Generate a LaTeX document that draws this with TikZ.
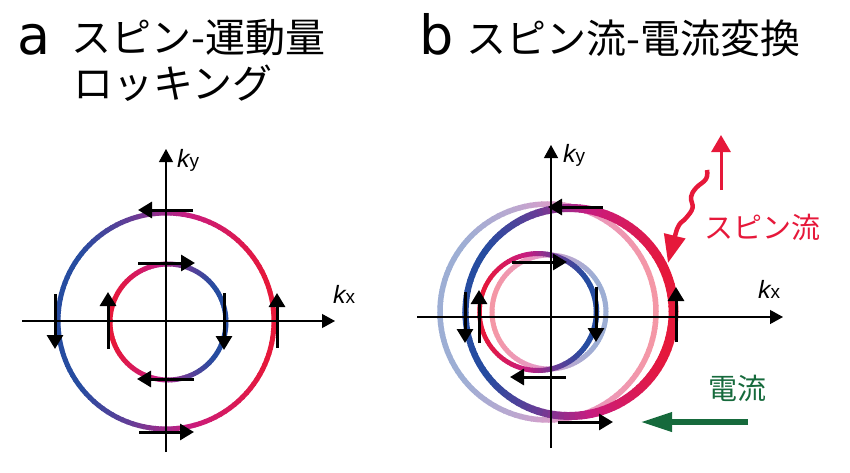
\documentclass[tikz,border=0pt]{standalone}
\usepackage{fontspec}
\newfontfamily\jpfont{Noto Sans CJK JP}
\newfontfamily\latfont{DejaVu Sans}
\newfontfamily\kfont{Liberation Sans}
\usetikzlibrary{arrows.meta}

\definecolor{spinred}{RGB}{230,24,58}
\definecolor{spinmag}{RGB}{200,28,128}
\definecolor{spinpur}{RGB}{105,60,150}
\definecolor{spinblu}{RGB}{38,76,160}
\definecolor{spingreen}{RGB}{22,106,60}

% ring with red->blue colouring along the circle
% #1,#2 centre, #3 radius, #4 sense (+1 red right, -1 red left), #5,#6 width, #7 strength
\newcommand{\spinring}[7]{%
  \foreach \a in {0,3,...,357}{%
    \pgfmathsetmacro\rt{(1-#4*cos(\a+1.5))/2}%
    \pgfmathsetmacro\pa{min(100,max(0,(\rt-0.03)*270))}%
    \pgfmathsetmacro\pb{min(100,max(0,(\rt-0.4)*400))}%
    \pgfmathsetmacro\pc{min(100,max(0,(\rt-0.65)*400))}%
    \pgfmathsetmacro\lw{#5+#6*cos(\a+1.5)}%
    \colorlet{c1}{spinmag!\pa!spinred}%
    \colorlet{c2}{spinpur!\pb!c1}%
    \colorlet{c3}{spinblu!\pc!c2}%
    \draw[line width=\lw pt, c3!#7!white]
      ([shift={(\a:#3)}]#1,#2) arc[start angle=\a, end angle=\a+3.6, radius=#3];
  }}

\begin{document}
\begin{tikzpicture}[x=1pt, y=1pt,
                axis/.style={line width=1.2pt, -{Triangle[width=14pt,length=13pt]}},
                spinarrow/.style={line width=3pt, -{Triangle[width=16pt,length=14pt]}},
                klabel/.style={anchor=base west, inner sep=0, font=\kfont\fontsize{25}{25}\selectfont},
                title/.style={anchor=west, inner sep=0, font=\jpfont\fontsize{40}{40}\selectfont},
                letter/.style={anchor=base west, inner sep=0, font=\latfont\fontsize{54}{54}\selectfont},
                flowlabel/.style={inner sep=0, font=\jpfont\fontsize{29}{29}\selectfont}]

  \useasboundingbox (0,0) rectangle (850,472);

  % titles
  \node[letter] (la) at (17,417) {a};
  \node[title] (ta1) at (71,434) {スピン-運動量};
  \node[title] (ta2) at (73,388.5) {ロッキング};
  \node[letter] (lb) at (419,417) {b};
  \node[title] (tb) at (466,434) {スピン流-電流変換};

  % panel a
  \begin{scope}[shift={(166,151)}]
    \spinring{0}{0}{108}{1}{5}{0}{100}
    \spinring{2}{-1}{58}{-1}{5}{0}{100}
    \coordinate (aW) at (-144,0);
    \coordinate (aE) at (169,0);
    \coordinate (aS) at (0,-131);
    \coordinate (aN) at (0,172);
    \draw[axis] (aW) -- (aE);
    \draw[axis] (aS) -- (aN);
    \node[klabel] (aky) at (11,154) {\itshape k\upshape\fontsize{19}{19}\selectfont y};
    \node[klabel] (akx) at (167,18) {\itshape k\upshape\fontsize{19}{19}\selectfont x};
    \foreach \r in {0,90,180,270}{
      \draw[spinarrow, rotate=\r] (111,-27) -- (111,28);
      \draw[spinarrow, rotate=\r] (58,28) -- (58,-29);
    }
  \end{scope}

  % panel b
  \begin{scope}[shift={(551,155)}]
    \spinring{-3}{5}{108}{1}{5.5}{0}{45}
    \spinring{-2}{5}{57}{-1}{5}{0}{45}
    \spinring{18.5}{5}{104}{1}{8}{1.8}{100}
    \spinring{-13}{5}{58.5}{-1}{5}{0.5}{100}
    \coordinate (bW) at (-134,0);
    \coordinate (bE) at (232,0);
    \coordinate (bS) at (0,-131);
    \coordinate (bN) at (0,172);
    \draw[axis] (bW) -- (bE);
    \draw[axis] (bS) -- (bN);
    \node[klabel] (bky) at (12,155) {\itshape k\upshape\fontsize{19}{19}\selectfont y};
    \node[klabel] (bkx) at (207,19) {\itshape k\upshape\fontsize{19}{19}\selectfont x};
    \draw[spinarrow] (52,110) -- (-3,110);
    \draw[spinarrow] (7,-105) -- (62,-105);
    \draw[spinarrow] (-86,25) -- (-86,-26);
    \draw[spinarrow] (125,-25) -- (125,30);
    \draw[spinarrow] (-39,55) -- (16,55);
    \draw[spinarrow] (15,-60) -- (-41,-60);
    \draw[spinarrow] (-72,-26) -- (-72,27);
    \draw[spinarrow] (45,30) -- (45,-25);
  \end{scope}

  % spin current and charge current
  \coordinate (up0) at (721,282);
  \coordinate (up1) at (721,337);
  \draw[spinred, line width=3pt, -{Triangle[width=19pt,length=17pt]}] (up0) -- (up1);
  \coordinate (wv0) at (707,302);
  \coordinate (wv1) at (668,209);
  \draw[spinred, line width=4.5pt, -{Triangle[width=21pt,length=28pt]}]
    plot[smooth, tension=0.7] coordinates {(wv0) (706,293) (696,284) (691,275) (692.5,264) (686,254) (679,247) (675,236) (wv1)};
  \node[flowlabel, text=spinred] (spinflow) at (762,245) {スピン流};

  \coordinate (cur0) at (748,50);
  \coordinate (cur1) at (640,50);
  \draw[spingreen, line width=6.5pt, -{Triangle[width=18pt,length=32pt]}] (cur0) -- (cur1);
  \node[flowlabel, text=spingreen] (curflow) at (737,84) {電流};
\end{tikzpicture}
\end{document}
